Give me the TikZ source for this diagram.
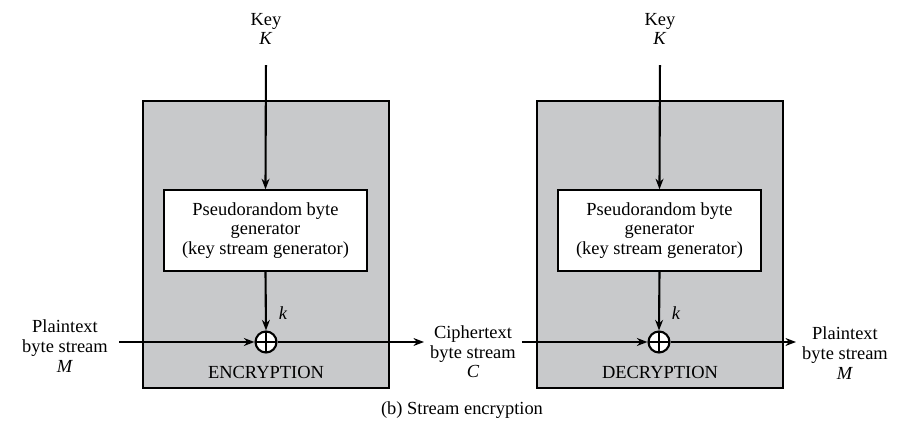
\documentclass[tikz,border=0pt]{standalone}
\usepackage{fontspec}
\setmainfont{Liberation Serif}
\usetikzlibrary{arrows.meta,positioning}
\definecolor{boxgray}{RGB}{200,201,203}

\begin{document}
\begin{tikzpicture}[x=0.02cm,y=-0.02cm,
  every node/.style={font=\fontsize{10.5}{11.2}\selectfont,align=center},
  outerbox/.style={draw,fill=boxgray,line width=0.8pt,minimum width=4.92cm,minimum height=5.74cm},
  genbox/.style={draw,fill=white,line width=0.8pt,minimum width=4.06cm,minimum height=1.62cm},
  xor/.style={draw,circle,fill=white,line width=1.2pt,minimum size=0.42cm,inner sep=0pt,
    path picture={\draw[line width=1.2pt] (path picture bounding box.north) -- (path picture bounding box.south)
      (path picture bounding box.west) -- (path picture bounding box.east);}},
  flow/.style={-{Stealth[length=6pt,width=4.5pt]},line width=1.2pt}]
\useasboundingbox (0,0) rectangle (924,438);

% encryption side
\node (encbox) at (266,244.5)[outerbox] {};
\node (enckey) at (266,29) {Key\\\textit{K}};
\node (encgen) at (265.5,230.5)[genbox] {Pseudorandom byte\\generator\\(key stream generator)};
\node (encxor) at (266,342)[xor] {};
\node (enck) at (283,313) {\textit{k}};
\node (enclabel) at (266,372) {ENCRYPTION};

% decryption side
\node (decbox) at (660,244.5)[outerbox] {};
\node (deckey) at (660,29) {Key\\\textit{K}};
\node (decgen) at (659.5,230.5)[genbox] {Pseudorandom byte\\generator\\(key stream generator)};
\node (decxor) at (659,342)[xor] {};
\node (deck) at (676,313) {\textit{k}};
\node (declabel) at (660,372) {DECRYPTION};

% streams
\node (plainin) at (65,346) {Plaintext\\byte stream\\\textit{M}};
\node (cipher) at (473,352) {Ciphertext\\byte stream\\\textit{C}};
\node (plainout) at (845,353) {Plaintext\\byte stream\\\textit{M}};

\draw [flow,shorten <=8pt] (enckey.south) -- (encgen.north);
\draw [flow] (encgen.south) -- (encxor.north);
\draw [flow,shorten <=8pt] (deckey.south) -- (decgen.north);
\draw [flow] (decgen.south) -- (decxor.north);
\draw [flow,shorten <=3pt] (plainin.east |- encxor) -- (encxor.west);
\draw [flow] (encxor.east) -- (cipher.west |- encxor);
\draw [flow] (cipher.east |- decxor) -- (decxor.west);
\draw [flow] (decxor.east) -- (plainout.west |- decxor);

\node (caption) at (462,410) {(b) Stream encryption};
\end{tikzpicture}
\end{document}
